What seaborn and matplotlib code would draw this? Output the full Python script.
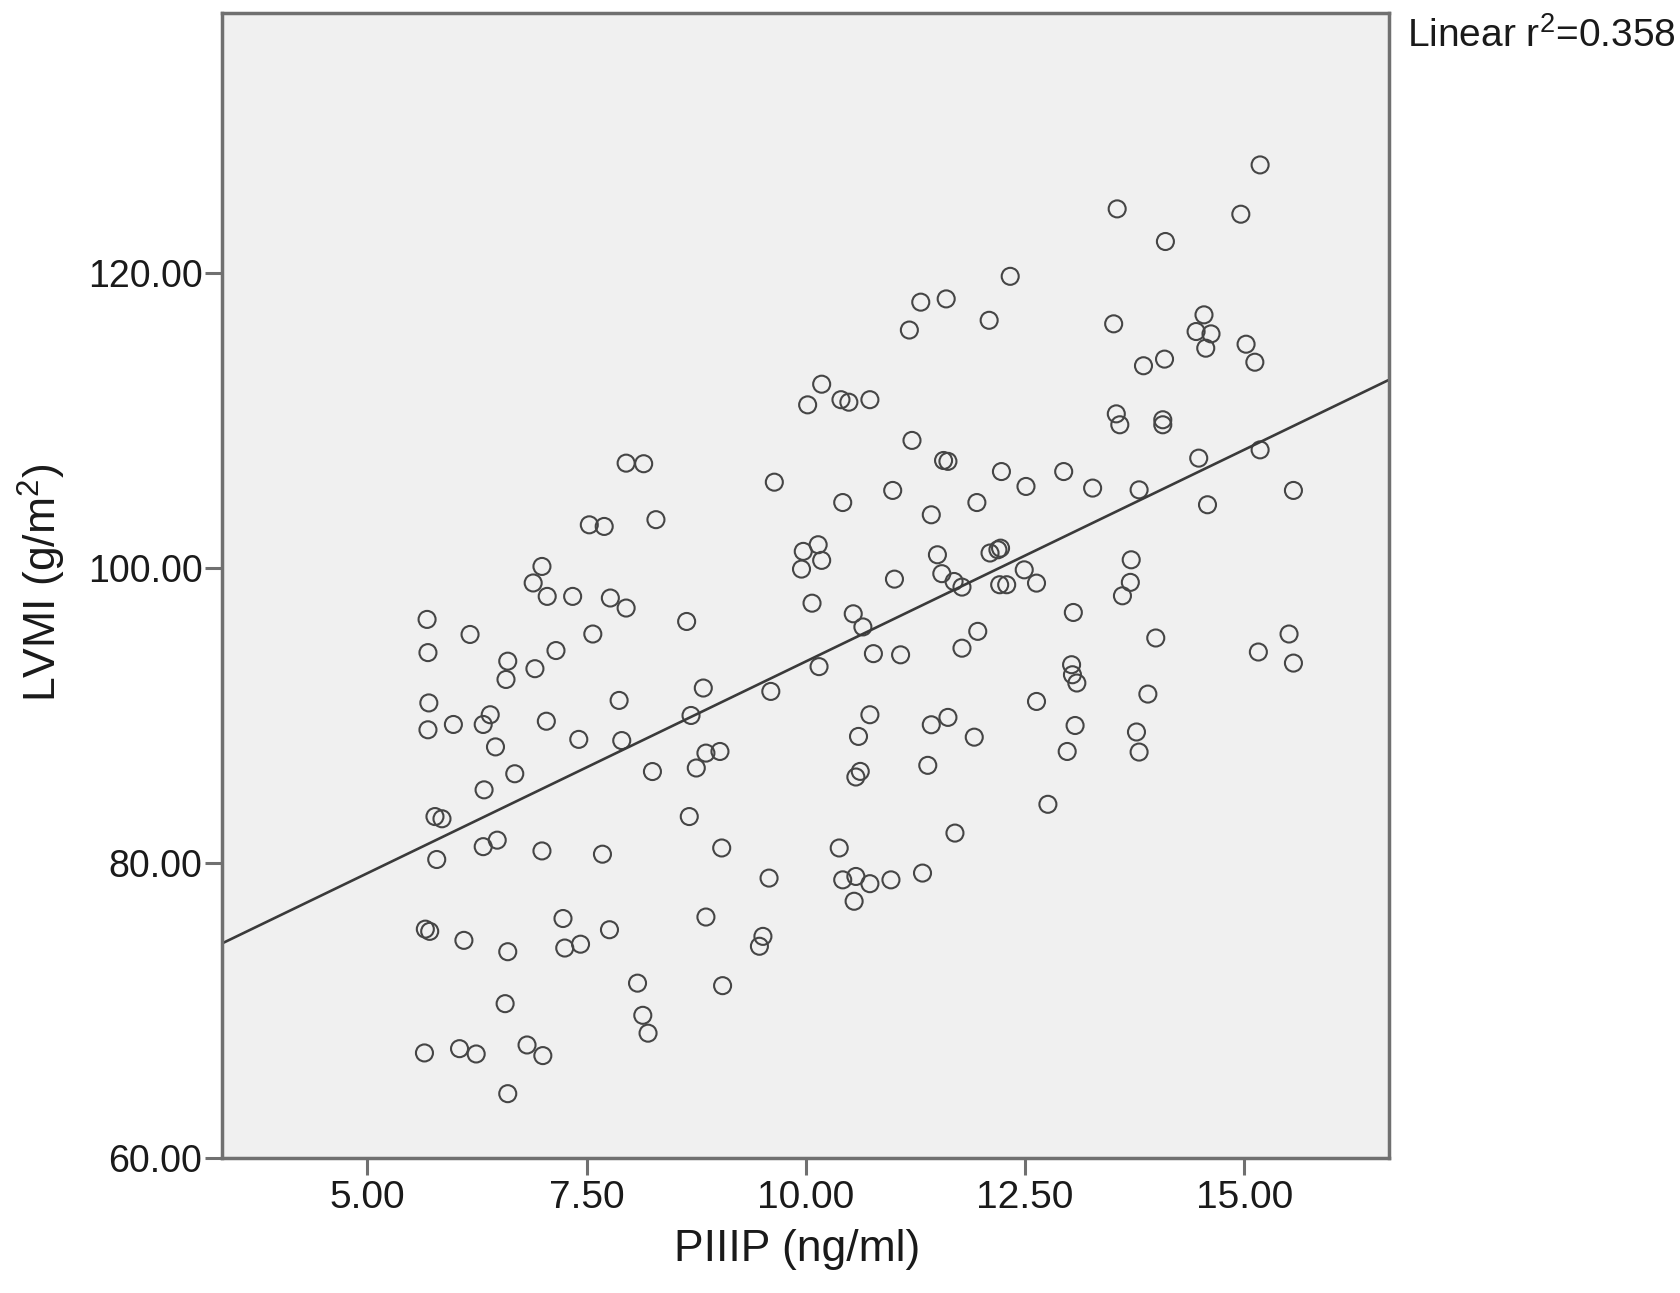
import matplotlib
matplotlib.use("Agg")
import matplotlib.pyplot as plt
import seaborn as sns
import pandas as pd

# ---------- DATA ----------
piiip = [
    5.68, 5.69, 5.70, 5.69, 5.77, 5.85, 5.79, 5.66, 5.71, 5.65,
    5.98, 6.05, 6.10, 6.17, 6.24, 6.32, 6.40, 6.33, 6.32, 6.48,
    6.46, 6.60, 6.58, 6.60, 6.57, 6.60, 6.68, 6.82, 6.89, 6.91,
    6.99, 7.05, 7.04, 6.99, 7.00, 7.15, 7.23, 7.25, 7.34, 7.41,
    7.43, 7.53, 7.57, 7.70, 7.68, 7.76, 7.77, 7.87, 7.90, 7.95,
    7.95, 8.08, 8.15, 8.14, 8.20, 8.25, 8.29, 8.64, 8.67, 8.69,
    8.75, 8.83, 8.86, 8.86, 9.02, 9.04, 9.05, 9.47, 9.51, 9.58,
    9.60, 9.64, 9.95, 9.97, 10.02, 10.07, 10.14, 10.18, 10.18, 10.15,
    10.40, 10.49, 10.42, 10.38, 10.42, 10.54, 10.57, 10.55, 10.57, 10.62,
    10.60, 10.65, 10.73, 10.73, 10.73, 10.77, 10.97, 10.99, 11.01, 11.08,
    11.18, 11.21, 11.31, 11.33, 11.39, 11.43, 11.43, 11.50, 11.57, 11.62,
    11.55, 11.60, 11.62, 11.69, 11.70, 11.78, 11.78, 11.92, 11.95, 11.96,
    12.09, 12.10, 12.19, 12.22, 12.23, 12.21, 12.29, 12.33, 12.49, 12.51,
    12.63, 12.63, 12.76, 12.94, 12.98, 13.05, 13.03, 13.04, 13.09, 13.07,
    13.27, 13.51, 13.54, 13.58, 13.55, 13.61, 13.71, 13.70, 13.77, 13.80,
    13.80, 13.85, 13.99, 14.07, 14.07, 14.09, 14.10, 13.90, 14.45, 14.54,
    14.62, 14.56, 14.48, 14.58, 14.96, 15.02, 15.12, 15.18, 15.18, 15.16,
    15.51, 15.56, 15.56,
]
lvmi = [
    96.50, 94.25, 90.84, 89.02, 83.14, 82.99, 80.23, 75.51, 75.36, 67.12,
    89.38, 67.41, 74.75, 95.48, 67.05, 89.38, 90.04, 84.95, 81.10, 81.54,
    87.86, 93.67, 92.43, 73.98, 70.46, 64.36, 86.04, 67.66, 98.97, 93.16,
    100.09, 98.06, 89.60, 80.81, 66.94, 94.39, 76.23, 74.23, 98.06, 88.37,
    74.49, 102.91, 95.51, 102.80, 80.59, 75.47, 97.95, 91.01, 88.29, 97.27,
    107.09, 71.85, 107.05, 69.67, 68.46, 86.19, 103.26, 96.36, 83.14, 89.99,
    86.43, 91.85, 87.44, 76.33, 87.55, 81.01, 71.68, 74.35, 75.02, 78.97,
    91.62, 105.80, 99.91, 101.11, 111.04, 97.60, 101.56, 100.50, 112.44, 93.30,
    111.39, 111.22, 104.42, 81.01, 78.85, 96.88, 79.08, 77.40, 85.82, 86.20,
    88.57, 95.99, 111.39, 90.04, 78.59, 94.18, 78.85, 105.24, 99.23, 94.10,
    116.11, 108.63, 118.00, 79.31, 86.61, 103.59, 89.36, 100.88, 107.27, 107.21,
    99.60, 118.22, 89.86, 99.07, 82.02, 98.69, 94.55, 88.52, 104.42, 95.69,
    116.77, 101.00, 101.22, 101.33, 106.52, 98.85, 98.85, 119.75, 99.86, 105.51,
    98.96, 90.94, 83.97, 106.52, 87.55, 96.97, 93.43, 92.75, 92.19, 89.31,
    105.40, 116.53, 110.43, 109.69, 124.32, 98.10, 100.54, 99.01, 88.87, 87.51,
    105.28, 113.69, 95.24, 110.03, 109.69, 114.14, 122.11, 91.44, 116.01, 117.14,
    115.85, 114.88, 107.43, 104.27, 123.96, 115.15, 113.93, 127.30, 107.99, 94.29,
    95.51, 93.54, 105.24,
]

x_ticks = [5.0, 7.5, 10.0, 12.5, 15.0]
x_tick_labels = ["5.00", "7.50", "10.00", "12.50", "15.00"]
y_ticks = [60, 80, 100, 120]
y_tick_labels = ["60.00", "80.00", "100.00", "120.00"]
r2_text = "Linear r$\\mathregular{^2}$=0.358"

df = pd.DataFrame({"piiip": piiip, "lvmi": lvmi})

# ---------- STYLE ----------
sns.set_style("white")
plt.rcParams["font.family"] = ["Liberation Sans", "DejaVu Sans"]
plt.rcParams["mathtext.fontset"] = "custom"
plt.rcParams["mathtext.rm"] = "Liberation Sans"

fig = plt.figure(figsize=(16.81, 12.93), dpi=100)
ax = fig.add_axes([0.132, 0.1044, 0.6943, 0.8856])
ax.set_facecolor("#f0f0f0")
ax.set_xlim(3.34, 16.65)
ax.set_ylim(60, 137.6)

sns.regplot(
    data=df, x="piiip", y="lvmi", ax=ax, ci=None, truncate=False,
    color="#454545",
    scatter_kws=dict(s=150, facecolors="none", edgecolors="#454545",
                     linewidths=1.5, alpha=1),
    line_kws=dict(color="#3a3a3a", lw=1.9),
)

ax.set_xticks(x_ticks)
ax.set_xticklabels(x_tick_labels)
ax.set_yticks(y_ticks)
ax.set_yticklabels(y_tick_labels)
ax.tick_params(axis="x", bottom=True, direction="out", length=12, width=2.2,
               color="#707070", labelsize=28, labelcolor="#1a1a1a", pad=4)
ax.tick_params(axis="y", left=True, direction="out", length=12, width=2.2,
               color="#707070", labelsize=27, labelcolor="#1a1a1a", pad=2)

for side in ["left", "right", "top", "bottom"]:
    ax.spines[side].set_visible(True)
    ax.spines[side].set_color("#707070")
    ax.spines[side].set_linewidth(2.5)

ax.set_xlabel("PIIIP (ng/ml)", fontsize=32, color="#1a1a1a")
ax.xaxis.set_label_coords(0.493, -0.062)
ax.set_ylabel("LVMI (g/m$\\mathregular{^2}$)", fontsize=32, color="#1a1a1a")
ax.yaxis.set_label_coords(-0.132, 0.502)

fig.text(0.837, 0.972, r2_text, fontsize=28, color="#1a1a1a",
         ha="left", va="center")

fig.savefig("out.png", dpi=100)
